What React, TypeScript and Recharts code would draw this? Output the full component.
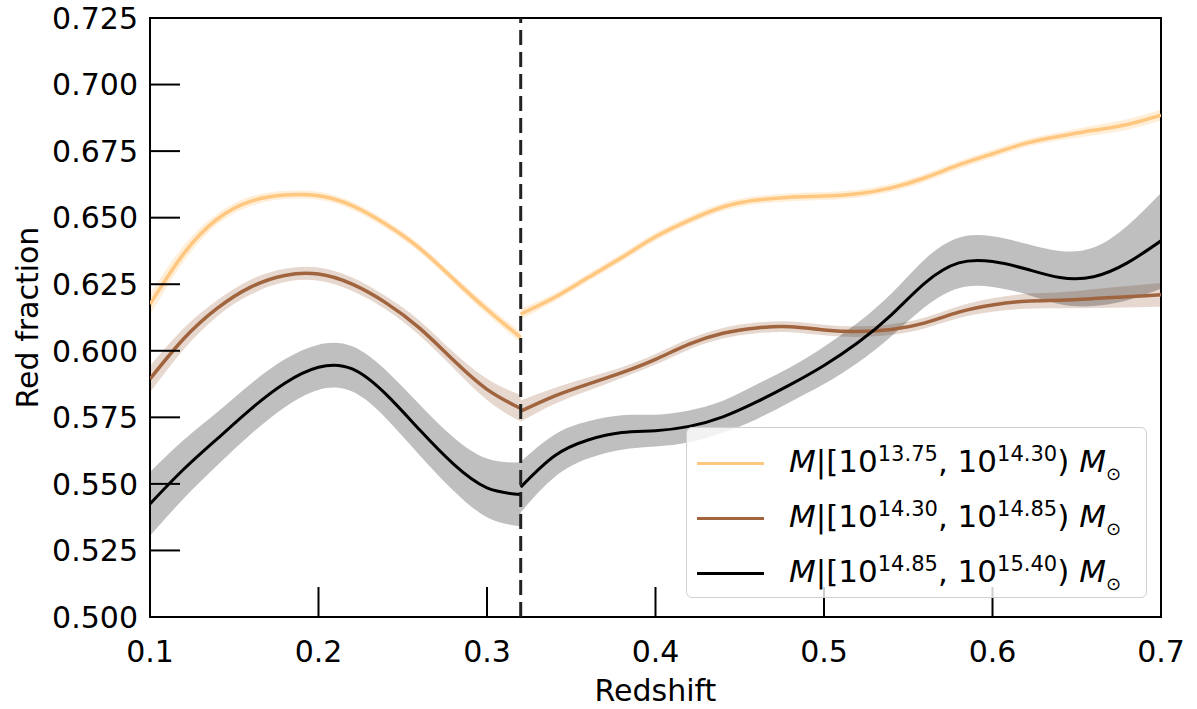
import { ComposedChart, Line, Area, XAxis, YAxis, ReferenceLine, ReferenceArea, Legend } from 'recharts';

// redshift grid, split at the vertical line z = 0.32
const zLeft = [0.1, 0.12, 0.14, 0.16, 0.18, 0.2, 0.22, 0.24, 0.26, 0.28, 0.3, 0.32];
const zRight = [0.32, 0.34, 0.36, 0.38, 0.4, 0.42, 0.44, 0.46, 0.48, 0.5, 0.52, 0.54, 0.56, 0.58, 0.6, 0.62, 0.64, 0.66, 0.68, 0.7];

// low mass bin [10^13.75, 10^14.30)
const lowLeft = [0.6175, 0.6365, 0.6495, 0.6562, 0.6585, 0.6582, 0.6545, 0.6475, 0.6385, 0.627, 0.6155, 0.605];
const lowErrLeft = [0.004, 0.003, 0.002, 0.0018, 0.0015, 0.0015, 0.0015, 0.0015, 0.0015, 0.0015, 0.0018, 0.002];
const lowRight = [0.6138, 0.62, 0.6275, 0.635, 0.6428, 0.649, 0.654, 0.6566, 0.6577, 0.6581, 0.659, 0.6612, 0.665, 0.6698, 0.674, 0.678, 0.6806, 0.6828, 0.685, 0.6885];
const lowErrRight = [0.002, 0.0015, 0.0015, 0.0015, 0.0015, 0.0015, 0.0015, 0.0015, 0.0015, 0.0015, 0.0015, 0.0015, 0.0015, 0.0015, 0.0015, 0.0015, 0.0015, 0.0018, 0.002, 0.002];

// mid mass bin [10^14.30, 10^14.85)
const midLeft = [0.5894, 0.6045, 0.616, 0.624, 0.6283, 0.6288, 0.625, 0.618, 0.6085, 0.5965, 0.5855, 0.5783];
const midErrLeft = [0.005, 0.004, 0.003, 0.0028, 0.0025, 0.0025, 0.0025, 0.0025, 0.0028, 0.003, 0.004, 0.005];
const midRight = [0.5773, 0.583, 0.5875, 0.5918, 0.5968, 0.6025, 0.6066, 0.6086, 0.609, 0.6078, 0.6072, 0.608, 0.6105, 0.6145, 0.6172, 0.6186, 0.619, 0.6196, 0.6203, 0.621];
const midErrRight = [0.004, 0.003, 0.0025, 0.002, 0.002, 0.002, 0.002, 0.002, 0.002, 0.002, 0.002, 0.002, 0.002, 0.0022, 0.0025, 0.0028, 0.003, 0.0035, 0.004, 0.0045];

// high mass bin [10^14.85, 10^15.40)
const highLeft = [0.5425, 0.5555, 0.567, 0.5782, 0.5878, 0.5938, 0.5932, 0.5837, 0.5703, 0.5575, 0.5485, 0.546];
const highErrLeft = [0.012, 0.011, 0.01, 0.0095, 0.009, 0.0085, 0.0085, 0.009, 0.0095, 0.01, 0.011, 0.012];
const highRight = [0.5488, 0.5605, 0.5665, 0.5693, 0.57, 0.5716, 0.5752, 0.5808, 0.5873, 0.5945, 0.603, 0.6135, 0.6255, 0.633, 0.6335, 0.6307, 0.6275, 0.6278, 0.633, 0.6413];
const highErrRight = [0.0095, 0.008, 0.007, 0.0065, 0.006, 0.006, 0.006, 0.0065, 0.0065, 0.007, 0.0075, 0.008, 0.009, 0.0095, 0.0095, 0.0095, 0.01, 0.011, 0.014, 0.018];

const xTicks = [0.1, 0.2, 0.3, 0.4, 0.5, 0.6, 0.7];
const yTicks = [0.5, 0.525, 0.55, 0.575, 0.6, 0.625, 0.65, 0.675, 0.7, 0.725];
const zSplit = 0.32;

const bins = [
  { key: 'low', lo: '13.75', hi: '14.30', color: '#FFC77F' },
  { key: 'mid', lo: '14.30', hi: '14.85', color: '#A0643F' },
  { key: 'high', lo: '14.85', hi: '15.40', color: '#000000' },
];

const band = (v: number, e: number) => [v - e, v + e];

const rows = [
  ...zLeft.map((z, i) => ({
    z,
    lowL: lowLeft[i], lowBandL: band(lowLeft[i], lowErrLeft[i]),
    midL: midLeft[i], midBandL: band(midLeft[i], midErrLeft[i]),
    highL: highLeft[i], highBandL: band(highLeft[i], highErrLeft[i]),
  })),
  ...zRight.map((z, i) => ({
    z,
    lowR: lowRight[i], lowBandR: band(lowRight[i], lowErrRight[i]),
    midR: midRight[i], midBandR: band(midRight[i], midErrRight[i]),
    highR: highRight[i], highBandR: band(highRight[i], highErrRight[i]),
  })),
];

const FONT = 'DejaVu Sans';
const CURVE = 'natural';

function YTick(props: any) {
  const { x, y, payload } = props;
  return (
    <g>
      <line x1={x} x2={x + 30} y1={y} y2={y} stroke="#000" strokeWidth={2} />
      <text x={x - 12} y={y} dy="0.36em" textAnchor="end" fontSize={30} fontFamily={FONT} fill="#000">
        {Number(payload.value).toFixed(3)}
      </text>
    </g>
  );
}

function XTick(props: any) {
  const { x, y, payload } = props;
  return (
    <g>
      <line x1={x} x2={x} y1={y} y2={y - 30} stroke="#000" strokeWidth={2} />
      <text x={x} y={y + 45} textAnchor="middle" fontSize={30} fontFamily={FONT} fill="#000">
        {Number(payload.value).toFixed(1)}
      </text>
    </g>
  );
}

function YLabel(props: any) {
  const { viewBox } = props;
  const cx = 27;
  const cy = viewBox.y + viewBox.height / 2;
  return (
    <text x={cx} y={cy} dy="0.36em" transform={`rotate(-90 ${cx} ${cy})`} textAnchor="middle" fontSize={30} fontFamily={FONT} fill="#000">
      Red fraction
    </text>
  );
}

function MassLegend() {
  return (
    <div style={{
      width: 461, height: 171, border: '1.5px solid #d0d0d0', borderRadius: 6,
      background: 'rgba(255,255,255,0.8)', fontFamily: FONT, color: '#000', boxSizing: 'border-box',
      paddingTop: 8,
    }}>
      {bins.map(b => (
        <div key={b.key} style={{ display: 'flex', alignItems: 'center', height: 55 }}>
          <div style={{ width: 67, height: 3, background: b.color, marginLeft: 10, marginRight: 25 }} />
          <div style={{ fontSize: 31, whiteSpace: 'nowrap', lineHeight: '31px' }}>
            <i>M</i>|[10<sup style={{ fontSize: 21 }}>{b.lo}</sup>, 10<sup style={{ fontSize: 21 }}>{b.hi}</sup>)
            {' '}<i>M</i><sub style={{ fontSize: 18 }}>⊙</sub>
          </div>
        </div>
      ))}
    </div>
  );
}

export default function App() {
  return (
    <div style={{ position: 'absolute', left: 0, top: 0, background: '#fff' }}>
      <ComposedChart width={1197} height={709} data={rows} margin={{ top: 18, right: 36, left: 0, bottom: 0 }}>
        <XAxis
          dataKey="z" type="number" domain={[0.1, 0.7]} ticks={xTicks} height={92}
          tickSize={0} tickMargin={0} axisLine={false} tick={<XTick />} allowDataOverflow
          label={{ value: 'Redshift', position: 'insideBottom', offset: 8, fill: '#000', fontSize: 30, fontFamily: FONT }}
        />
        <YAxis
          type="number" domain={[0.5, 0.725]} ticks={yTicks} width={150}
          tickSize={0} tickMargin={0} axisLine={false} tick={<YTick />} allowDataOverflow
          label={<YLabel />}
        />
        <Legend
          layout="vertical" align="center" verticalAlign="middle"
          content={<MassLegend />}
          wrapperStyle={{ left: 686, top: 427, width: 461, height: 171 }}
        />

        <Area dataKey="lowBandL" type={CURVE} stroke="none" fill="#FFC77F" fillOpacity={0.3} legendType="none" isAnimationActive={false} />
        <Area dataKey="lowBandR" type={CURVE} stroke="none" fill="#FFC77F" fillOpacity={0.3} legendType="none" isAnimationActive={false} />
        <Line dataKey="lowL" type={CURVE} stroke="#FFC77F" strokeWidth={3.5} dot={false} legendType="none" isAnimationActive={false} />
        <Line dataKey="lowR" type={CURVE} stroke="#FFC77F" strokeWidth={3.5} dot={false} legendType="none" isAnimationActive={false} />

        <Area dataKey="midBandL" type={CURVE} stroke="none" fill="#A0643F" fillOpacity={0.25} legendType="none" isAnimationActive={false} />
        <Area dataKey="midBandR" type={CURVE} stroke="none" fill="#A0643F" fillOpacity={0.25} legendType="none" isAnimationActive={false} />
        <Line dataKey="midL" type={CURVE} stroke="#A0643F" strokeWidth={3.5} dot={false} legendType="none" isAnimationActive={false} />
        <Line dataKey="midR" type={CURVE} stroke="#A0643F" strokeWidth={3.5} dot={false} legendType="none" isAnimationActive={false} />

        <Area dataKey="highBandL" type={CURVE} stroke="none" fill="#000" fillOpacity={0.25} legendType="none" isAnimationActive={false} />
        <Area dataKey="highBandR" type={CURVE} stroke="none" fill="#000" fillOpacity={0.25} legendType="none" isAnimationActive={false} />
        <Line dataKey="highL" type={CURVE} stroke="#000" strokeWidth={3} dot={false} legendType="none" isAnimationActive={false} />
        <Line dataKey="highR" type={CURVE} stroke="#000" strokeWidth={3} dot={false} legendType="none" isAnimationActive={false} />

        <ReferenceLine x={zSplit} stroke="#222" strokeWidth={3} strokeDasharray="15 7" />
        <ReferenceArea x1={0.1} x2={0.7} y1={0.5} y2={0.725} fill="none" stroke="#000" strokeWidth={2} />
      </ComposedChart>
    </div>
  );
}
